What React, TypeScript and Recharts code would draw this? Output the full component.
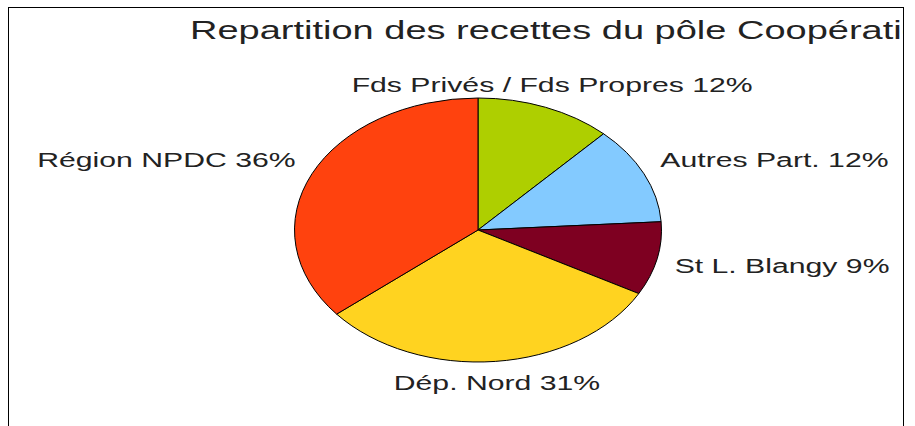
import { PieChart, Pie, Cell } from "recharts";

const names = [
  "Fds Privés / Fds Propres",
  "Autres Part.",
  "St L. Blangy",
  "Dép. Nord",
  "Région NPDC",
];
const shares = [12, 12, 9, 31, 36];
const colors = ["#aecf00", "#83caff", "#7e0021", "#ffd320", "#ff420e"];
const title = "Repartition des recettes du pôle Coopération";

const data = names.map((name, i) => ({ name, value: shares[i] }));

const SX = 1.39; // pie is drawn as an ellipse
const TX = 1.51; // text is stretched horizontally
const RAD = Math.PI / 180;

function EllipseSector(props: any) {
  const { cx, cy, outerRadius, startAngle, endAngle, fill } = props;
  const rx = outerRadius * SX;
  const ry = outerRadius;
  const p = (a: number) => [cx + Math.cos(-a * RAD) * rx, cy + Math.sin(-a * RAD) * ry];
  const [x1, y1] = p(startAngle);
  const [x2, y2] = p(endAngle);
  const large = Math.abs(endAngle - startAngle) > 180 ? 1 : 0;
  const d = `M${cx},${cy} L${x1},${y1} A${rx},${ry} 0 ${large} 1 ${x2},${y2} Z`;
  return <path d={d} fill={fill} stroke="#000" strokeWidth={1} />;
}

function renderLabel(props: any) {
  const { cx, cy, midAngle, outerRadius, name, value } = props;
  const c = Math.cos(-midAngle * RAD);
  const s = Math.sin(-midAngle * RAD);
  const x = cx + (outerRadius * SX + 18) * c;
  const y = cy + (outerRadius + 22 + 12 * c * c) * s;
  const anchor = Math.abs(c) < 0.5 ? "middle" : c > 0 ? "start" : "end";
  return (
    <text
      transform={`translate(${x},${y}) scale(${TX},1)`}
      x={0}
      y={0}
      textAnchor={anchor}
      dominantBaseline="central"
      fontSize={20}
      fontFamily="'Liberation Sans', Arial, sans-serif"
      fill="#222"
    >
      {`${name} ${value}%`}
    </text>
  );
}

export default function App() {
  return (
    <div
      style={{
        position: "fixed",
        left: 8,
        top: 7,
        width: 896,
        height: 419,
        boxSizing: "border-box",
        borderTop: "1px solid #000",
        borderLeft: "1px solid #000",
        borderRight: "1px solid #000",
        overflow: "hidden",
        background: "#fff",
      }}
    >
      <svg width={894} height={60} style={{ position: "absolute", left: 0, top: 0 }}>
        <text
          transform={`translate(181,31) scale(1.52,1)`}
          fontSize={25}
          fontFamily="'Liberation Sans', Arial, sans-serif"
          fill="#222"
        >
          {title}
        </text>
      </svg>
      <PieChart
        width={894}
        height={418}
        margin={{ top: 0, right: 0, bottom: 0, left: 0 }}
        style={{ position: "absolute", left: 0, top: 0 }}
      >
        <Pie
          data={data}
          dataKey="value"
          nameKey="name"
          cx={469}
          cy={222}
          outerRadius={132}
          startAngle={90}
          endAngle={-270}
          shape={EllipseSector}
          label={renderLabel}
          labelLine={false}
          isAnimationActive={false}
        >
          {data.map((d, i) => (
            <Cell key={d.name} fill={colors[i]} />
          ))}
        </Pie>
      </PieChart>
    </div>
  );
}
